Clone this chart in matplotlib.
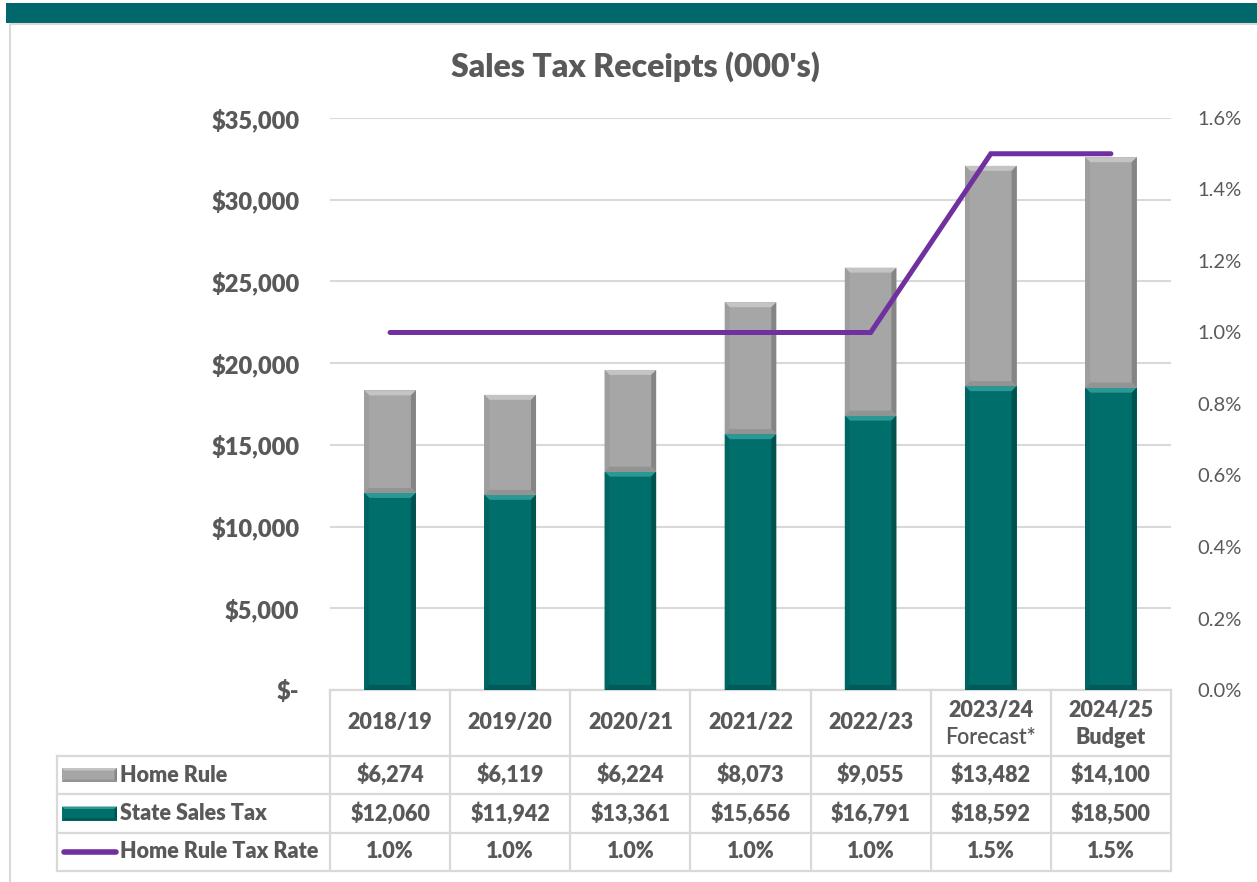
import matplotlib
matplotlib.use("Agg")
import matplotlib.pyplot as plt
from matplotlib.patches import Polygon, Rectangle
from matplotlib.lines import Line2D
from matplotlib.ticker import FuncFormatter, MultipleLocator

plt.rcParams["font.family"] = ["Lato", "DejaVu Sans"]

# data
years = ["2018/19", "2019/20", "2020/21", "2021/22", "2022/23", "2023/24", "2024/25"]
year_notes = ["", "", "", "", "", "Forecast*", "Budget"]
home_rule = [6274, 6119, 6224, 8073, 9055, 13482, 14100]
state_tax = [12060, 11942, 13361, 15656, 16791, 18592, 18500]
tax_rate = [1.0, 1.0, 1.0, 1.0, 1.0, 1.5, 1.5]

TXT = "#595959"
GRID = "#D9D9D9"
PURPLE = "#7030A0"
BOLD = "heavy"
GRAY_STYLE = dict(base="#A6A6A6", top="#C4C4C4", left="#9E9E9E", right="#858585", bottom="#939393")
TEAL_STYLE = dict(base="#006F6C", top="#2C9893", left="#006562", right="#00524F", bottom="#005B58")

W, H = 1257, 882
fig = plt.figure(figsize=(W / 100, H / 100), dpi=100)

# background layer in pixel coordinates
bg = fig.add_axes([0, 0, 1, 1], zorder=0)
bg.set_xlim(0, W)
bg.set_ylim(H, 0)
bg.axis("off")
bg.add_patch(Rectangle((6, 3), W - 6, 20, color="#00686A", lw=0))
bg.add_line(Line2D([10, W], [24, 24], color=GRID, lw=1.5))
bg.add_line(Line2D([10, 10], [24, H], color=GRID, lw=1.5))

# main chart
left, right, top, bottom = 330, 1171, 118, 690
ax = fig.add_axes([left / W, 1 - bottom / H, (right - left) / W, (bottom - top) / H], zorder=1)
ax.set_xlim(-0.5, len(years) - 0.5)
ax.set_ylim(0, 35000)
ax.yaxis.set_major_locator(MultipleLocator(5000))
ax.yaxis.set_major_formatter(FuncFormatter(lambda v, p: "$-" if v == 0 else f"${v:,.0f}"))
ax.set_xticks([])
for s in ax.spines.values():
    s.set_visible(False)
ax.grid(axis="y", color=GRID, lw=1.5)
ax.set_axisbelow(True)
ax.tick_params(axis="y", length=0, pad=22, labelsize=17, labelcolor=TXT)
for lab in ax.get_yticklabels():
    lab.set_fontweight(BOLD)
ax.set_facecolor("none")

bar_w = 0.43
px_per_y = (bottom - top) / 35000
px_per_x = (right - left) / len(years)
bev = 5


def bevel_bars(xs, bottoms, heights, st):
    bars = ax.bar(xs, heights, bar_w, bottom=bottoms, color=st["base"], zorder=2)
    for b in bars:
        x0, y0 = b.get_x(), b.get_y()
        x1, y1 = x0 + b.get_width(), y0 + b.get_height()
        bx, by = bev / px_per_x, bev / px_per_y
        faces = [
            ([(x0, y1), (x1, y1), (x1 - bx, y1 - by), (x0 + bx, y1 - by)], st["top"]),
            ([(x0, y0), (x0, y1), (x0 + bx, y1 - by), (x0 + bx, y0 + by)], st["left"]),
            ([(x1, y0), (x1, y1), (x1 - bx, y1 - by), (x1 - bx, y0 + by)], st["right"]),
            ([(x0, y0), (x1, y0), (x1 - bx, y0 + by), (x0 + bx, y0 + by)], st["bottom"]),
        ]
        for pts, c in faces:
            ax.add_patch(Polygon(pts, closed=True, color=c, lw=0, zorder=3))


xs = list(range(len(years)))
bevel_bars(xs, [0] * len(xs), state_tax, TEAL_STYLE)
bevel_bars(xs, state_tax, home_rule, GRAY_STYLE)

ax2 = ax.twinx()
ax2.set_ylim(0, 1.6)
ax2.yaxis.set_major_locator(MultipleLocator(0.2))
ax2.yaxis.set_major_formatter(FuncFormatter(lambda v, p: f"{v:.1f}%"))
ax2.tick_params(axis="y", length=0, pad=19, labelsize=14.5, labelcolor=TXT)
for s in ax2.spines.values():
    s.set_visible(False)
ax2.plot(xs, tax_rate, color=PURPLE, lw=3.6, solid_capstyle="round", solid_joinstyle="miter", zorder=5)

fig.text(635 / W, 1 - 67 / H, "Sales Tax Receipts (000's)", ha="center", va="center",
         fontsize=23, fontweight=BOLD, color=TXT)

# data table below the chart
col_w = (right - left) / len(years)
row_y = [690, 756, 794, 833, 871]
tab_left = 57
lw_t = 1.6
bg.add_line(Line2D([left, right], [row_y[0], row_y[0]], color=GRID, lw=lw_t))
for yy in row_y[1:]:
    bg.add_line(Line2D([tab_left, right], [yy, yy], color=GRID, lw=lw_t))
for i in range(len(years) + 1):
    xx = left + i * col_w
    bg.add_line(Line2D([xx, xx], [row_y[0], row_y[-1]], color=GRID, lw=lw_t))
bg.add_line(Line2D([tab_left, tab_left], [row_y[1], row_y[-1]], color=GRID, lw=lw_t))

tfs = 15.5
for i, (yr, note) in enumerate(zip(years, year_notes)):
    cx = left + (i + 0.5) * col_w
    cy = (row_y[0] + row_y[1]) / 2
    if note:
        bg.text(cx, cy - 12, yr, ha="center", va="center", fontsize=tfs, fontweight=BOLD, color=TXT)
        bg.text(cx, cy + 14, note, ha="center", va="center", fontsize=tfs,
                fontweight="semibold" if note.startswith("Fore") else BOLD, color=TXT)
    else:
        bg.text(cx, cy, yr, ha="center", va="center", fontsize=tfs, fontweight=BOLD, color=TXT)

rows = [
    ("Home Rule", [f"${v:,}" for v in home_rule], "gray"),
    ("State Sales Tax", [f"${v:,}" for v in state_tax], "teal"),
    ("Home Rule Tax Rate", [f"{v:.1f}%" for v in tax_rate], "line"),
]
for r, (name, vals, key) in enumerate(rows):
    cy = (row_y[r + 1] + row_y[r + 2]) / 2
    for i, v in enumerate(vals):
        bg.text(left + (i + 0.5) * col_w, cy, v, ha="center", va="center",
                fontsize=tfs, fontweight=BOLD, color=TXT)
    bg.text(120, cy, name, ha="left", va="center", fontsize=tfs, fontweight=BOLD, color=TXT)
    if key == "line":
        bg.add_line(Line2D([64, 116], [cy, cy], color=PURPLE, lw=4, solid_capstyle="round"))
    else:
        st = GRAY_STYLE if key == "gray" else TEAL_STYLE
        x0, x1, y0, y1 = 62, 117, cy + 7, cy - 7
        bg.add_patch(Rectangle((x0, y1), x1 - x0, y0 - y1, color=st["base"], lw=0))
        b = 2.5
        bg.add_patch(Polygon([(x0, y1), (x1, y1), (x1 - b, y1 + b), (x0 + b, y1 + b)], color=st["top"], lw=0))
        bg.add_patch(Polygon([(x1, y1), (x1, y0), (x1 - b, y0 - b), (x1 - b, y1 + b)], color=st["right"], lw=0))
        bg.add_patch(Polygon([(x0, y0), (x1, y0), (x1 - b, y0 - b), (x0 + b, y0 - b)], color=st["bottom"], lw=0))

fig.savefig("out.png", dpi=100)
